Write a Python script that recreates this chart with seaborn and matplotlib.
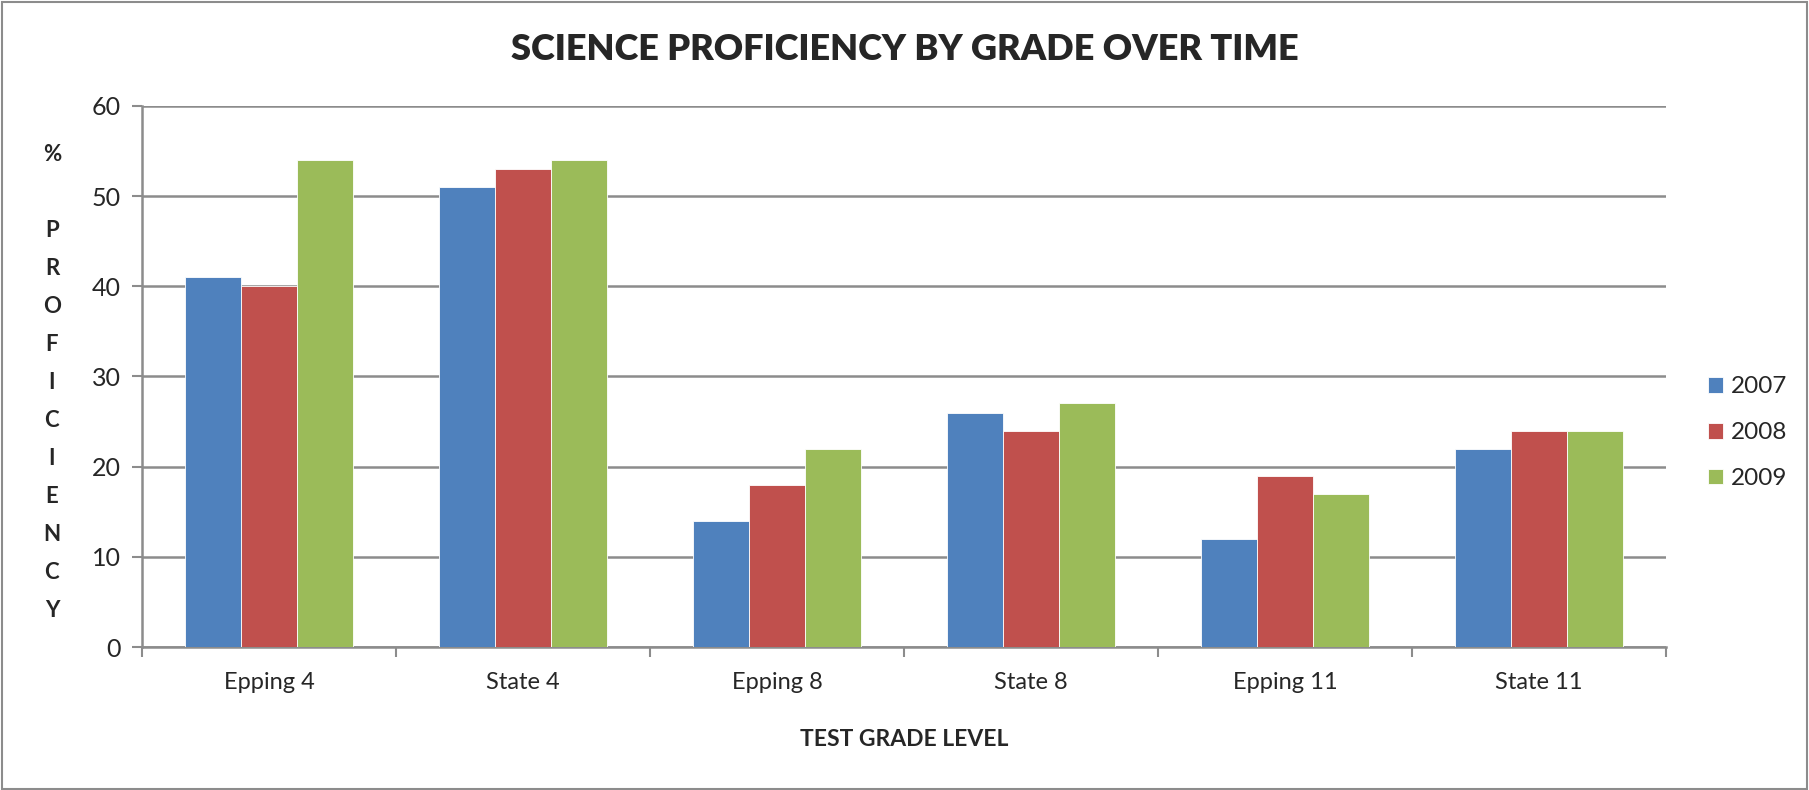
import pandas as pd
import numpy as np
import matplotlib.pyplot as plt
import seaborn as sns
from matplotlib.patches import Rectangle

# Science proficiency by grade, 2007-2009
grades = ['Epping 4', 'State 4', 'Epping 8', 'State 8', 'Epping 11', 'State 11']
years = ['2007', '2008', '2009']
y2007 = [41, 51, 14, 26, 12, 22]
y2008 = [40, 53, 18, 24, 19, 24]
y2009 = [54, 54, 22, 27, 17, 24]
colors = ['#4F81BD', '#C0504D', '#9BBB59']

df = pd.DataFrame({'grade': grades * 3,
                   'year': np.repeat(years, len(grades)),
                   'pct': y2007 + y2008 + y2009})

sns.set_style('white')
plt.rcParams['font.family'] = ['Lato', 'DejaVu Sans']

fig = plt.figure(figsize=(18.09, 7.90), dpi=100)
ax = fig.add_axes([0.0785, 0.181, 0.8425, 0.685])

sns.barplot(data=df, x='grade', y='pct', hue='year', order=grades,
            hue_order=years, palette=colors, width=0.664, saturation=1,
            edgecolor='white', linewidth=0.6, ax=ax, zorder=3)

ax.set_ylim(0, 60)
ax.set_xlim(-0.5, 5.5)
ax.set_yticks(range(0, 61, 10))
ax.yaxis.grid(True, color='#8C8C8C', linewidth=1.8, zorder=0)
ax.set_axisbelow(True)

for s in ['top', 'right']:
    ax.spines[s].set_visible(False)
for s in ['left', 'bottom']:
    ax.spines[s].set_color('#8C8C8C')
    ax.spines[s].set_linewidth(1.8)

ax.tick_params(axis='y', which='major', left=True, length=7, width=1.5,
               color='#8C8C8C', labelsize=18, pad=8)
ax.tick_params(axis='x', which='major', length=0, labelsize=17, pad=18)
ax.set_xticks(np.arange(-0.5, 6, 1), minor=True)
ax.tick_params(axis='x', which='minor', bottom=True, length=7, width=1.5,
               color='#8C8C8C')

ax.set_xlabel('TEST GRADE LEVEL', fontsize=16.5, fontweight='bold', labelpad=26)
ax.set_ylabel('')
fig.text(0.0287, 0.516, '%\n\nP\nR\nO\nF\nI\nC\nI\nE\nN\nC\nY', ha='center',
         va='center', fontsize=16, fontweight='bold', linespacing=2.0)

fig.text(0.5, 0.937, 'SCIENCE PROFICIENCY BY GRADE OVER TIME', ha='center',
         va='center', fontsize=26, fontweight='heavy')

ax.legend(loc='center left', bbox_to_anchor=(1.0276, 0.396), frameon=False,
          borderpad=0, borderaxespad=0, fontsize=17.5, handlelength=0.62,
          handleheight=0.62, labelspacing=1.02, handletextpad=0.3)

fig.patches.append(Rectangle((0.001, 0.001), 0.998, 0.997, transform=fig.transFigure,
                             fill=False, edgecolor='#8C8C8C', linewidth=1.5))

plt.savefig('out.png', dpi=100)
